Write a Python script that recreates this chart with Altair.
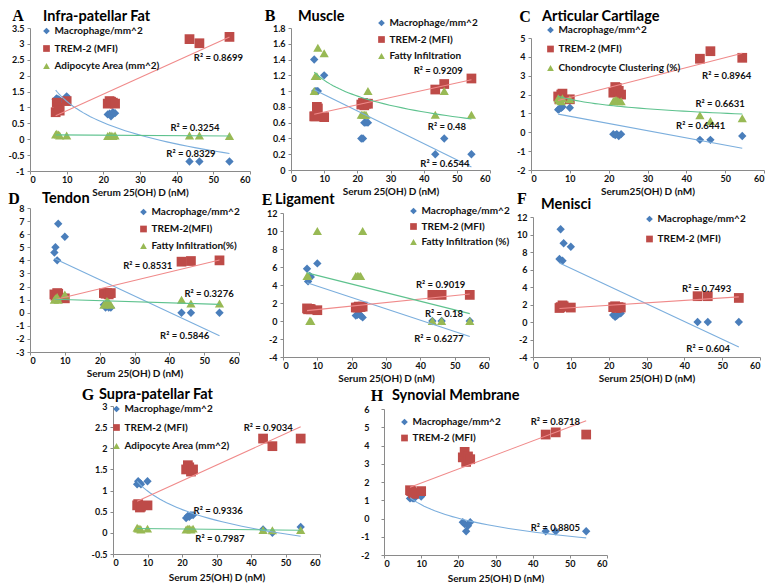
import altair as alt
import pandas as pd

# ---------------- data ----------------
SERUM = [7.0, 7.3, 7.8, 8.1, 10.0, 21.2, 21.7, 22.1, 22.6, 23.2, 43.5, 46.2, 54.4]
X_TICKS = [0, 10, 20, 30, 40, 50, 60]

# A  Infra-patellar Fat
A_MAC = [1.25, 1.28, 1.25, 1.22, 1.35, 0.78, 0.80, 0.72, 0.85, 0.82, -0.70, -0.70, -0.70]
A_TREM = [0.85, 1.15, 1.00, 0.90, 1.20, 1.12, 1.20, 1.18, 1.15, 1.12, 3.15, 3.02, 3.22]
A_ADIP = [0.15, 0.17, 0.15, 0.12, 0.12, 0.10, 0.12, 0.12, 0.10, 0.12, 0.12, 0.12, 0.10]
A_YTICKS = [-1, -0.5, 0, 0.5, 1, 1.5, 2, 2.5, 3, 3.5]
A_R2 = ["R² = 0.8699", "R² = 0.3254", "R² = 0.8329"]
A_R2_X = [51.4, 45.0, 43.9]
A_R2_Y = [2.56, 0.36, -0.48]

# B  Muscle
B_MAC = [1.40, 1.00, 1.00, 1.00, 1.20, 0.40, 0.40, 0.60, 0.60, 0.60, 0.20, 0.40, 0.20]
B_TREM = [0.68, 0.68, 0.80, 0.78, 0.67, 0.83, 0.85, 0.82, 0.84, 0.84, 1.02, 1.09, 1.16]
B_FAT = [1.00, 1.19, 1.19, 1.55, 1.48, 0.70, 0.70, 0.70, 0.70, 1.00, 0.70, 1.00, 0.70]
B_YTICKS = [0, 0.2, 0.4, 0.6, 0.8, 1, 1.2, 1.4, 1.6, 1.8]
B_R2 = ["R² = 0.9209", "R² = 0.48", "R² = 0.6544"]
B_R2_X = [44.4, 47.0, 46.4]
B_R2_Y = [1.25, 0.54, 0.08]

# C  Articular Cartilage
C_MAC = [1.20, 1.25, 1.30, 1.35, 1.30, -0.10, -0.15, -0.10, -0.20, -0.10, -0.40, -0.40, -0.20]
C_TREM = [1.90, 1.75, 2.00, 2.05, 1.75, 2.10, 2.40, 2.35, 2.20, 2.00, 3.90, 4.30, 3.95]
C_CHON = [1.80, 1.70, 1.65, 1.80, 1.75, 1.65, 1.70, 1.70, 1.65, 1.65, 0.90, 0.60, 0.75]
C_YTICKS = [-2, -1, 0, 1, 2, 3, 4, 5]
C_R2 = ["R² = 0.8964", "R² = 0.6631", "R² = 0.6441"]
C_R2_X = [50.4, 48.7, 43.7]
C_R2_Y = [3.0, 1.5, 0.33]

# D  Tendon
D_MAC = [4.60, 5.00, 4.00, 6.80, 5.80, 0.60, 0.40, 0.50, 0.40, 0.40, 0.00, 0.00, 0.00]
D_TREM = [1.40, 1.30, 1.50, 1.45, 1.10, 1.50, 1.45, 1.50, 1.40, 1.50, 3.90, 3.95, 4.00]
D_FAT = [1.00, 1.10, 1.20, 1.00, 1.40, 0.60, 0.70, 0.90, 0.80, 0.60, 1.00, 0.70, 0.70]
D_YTICKS = [-3, -2, -1, 0, 1, 2, 3, 4, 5, 6, 7, 8]
D_R2 = ["R² = 0.8531", "R² = 0.3276", "R² = 0.5846"]
D_R2_X = [33.8, 51.4, 44.4]
D_R2_Y = [3.54, 1.46, -1.81]

# E  Ligament
E_MAC = [5.80, 4.40, 5.00, 4.90, 6.40, 0.60, 0.70, 0.80, 0.60, 0.40, 0.00, 0.00, 0.00]
E_TREM = [1.40, 1.30, 1.35, 1.30, 1.20, 1.50, 1.50, 1.60, 1.55, 1.60, 2.90, 2.90, 2.90]
E_FAT = [5.0, 5.0, 0.0, 0.0, 10.0, 5.0, 5.0, 5.0, 5.0, 10.0, 0.0, 0.0, 0.0]
E_YTICKS = [-4, -2, 0, 2, 4, 6, 8, 10, 12]
E_R2 = ["R² = 0.9019", "R² = 0.18", "R² = 0.6277"]
E_R2_X = [45.9, 46.9, 45.4]
E_R2_Y = [4.0, 0.76, -1.97]

# F  Menisci
F_MAC = [7.20, 10.6, 7.00, 9.00, 8.60, 0.80, 0.60, 0.70, 0.90, 1.00, 0.00, 0.00, 0.00]
F_TREM = [1.60, 1.70, 1.90, 1.80, 1.65, 1.70, 1.80, 1.60, 1.70, 1.65, 2.95, 2.95, 2.75]
F_YTICKS = [-4, -2, 0, 2, 4, 6, 8, 10, 12]
F_R2 = ["R² = 0.7493", "R² = 0.604"]
F_R2_X = [45.9, 46.3]
F_R2_Y = [3.73, -3.05]

# G  Supra-patellar Fat
G_MAC = [1.15, 1.22, 1.18, 1.15, 1.22, 0.35, 0.40, 0.38, 0.42, 0.42, 0.08, 0.00, 0.14]
G_TREM = [0.65, 0.68, 0.60, 0.62, 0.65, 1.50, 1.60, 1.55, 1.45, 1.50, 2.23, 2.05, 2.23]
G_ADIP = [0.12, 0.10, 0.10, 0.08, 0.10, 0.08, 0.10, 0.10, 0.08, 0.10, 0.07, 0.06, 0.07]
G_YTICKS = [-0.5, 0, 0.5, 1, 1.5, 2, 2.5, 3]
G_R2 = ["R² = 0.9034", "R² = 0.9336", "R² = 0.7987"]
G_R2_X = [45.0, 30.5, 31.0]
G_R2_Y = [2.49, 0.52, -0.15]

# H  Synovial Membrane
H_MAC = [1.10, 1.15, 1.10, 1.10, 1.20, -0.20, -0.30, -0.70, -0.40, -0.20, -0.70, -0.70, -0.70]
H_TREM = [1.55, 1.50, 1.40, 1.35, 1.50, 3.35, 3.65, 3.10, 3.40, 3.25, 4.60, 4.72, 4.60]
H_YTICKS = [-2, -1, 0, 1, 2, 3, 4, 5, 6]
H_R2 = ["R² = 0.8718", "R² = 0.8805"]
H_R2_X = [46.1, 46.1]
H_R2_Y = [5.3, -0.54]

# ---------------- styles ----------------
MARK_COLORS = ["#4A7EBB", "#BE4B48", "#98B954"]
LINE_COLORS = ["#7BAEDD", "#F08A8A", "#5EC28E"]
SHAPES = ["diamond", "square", "triangle-up"]
SIZES = [70, 95, 85]
FONT = "Lato"
LABEL_EXPR = "datum.value < 0 ? '-' + format(-datum.value, '~g') : format(datum.value, '~g')"

PANELS = [
    dict(letter="A", title="Infra-patellar Fat",
         names=["Macrophage/mm^2", "TREM-2 (MFI)", "Adipocyte Area (mm^2)"],
         series=[A_MAC, A_TREM, A_ADIP], methods=["log", "linear", "linear"],
         ydom=[-1, 3.5], yticks=A_YTICKS, r2=(A_R2, A_R2_X, A_R2_Y),
         xtitle="Serum  25(OH) D (nM)", w=220, h=143, off=0,
         lx=-12, ly=-12, tx=13, ty=-11, gx=15, gy=3, gsp=17.5),
    dict(letter="B", title="Muscle",
         names=["Macrophage/mm^2", "TREM-2 (MFI)", "Fatty Infiltration"],
         series=[B_MAC, B_TREM, B_FAT], methods=["linear", "linear", "log"],
         ydom=[0, 1.8], yticks=B_YTICKS, r2=(B_R2, B_R2_X, B_R2_Y),
         xtitle="Serum 25(OH) D (nM)", w=199, h=142, off=0,
         lx=-21, ly=-12, tx=7, ty=-11, gx=89, gy=-5, gsp=16.5),
    dict(letter="C", title="Articular Cartilage",
         names=["Macrophage/mm^2", "TREM-2 (MFI)", "Chondrocyte Clustering (%)"],
         series=[C_MAC, C_TREM, C_CHON], methods=["linear", "linear", "log"],
         ydom=[-2, 5], yticks=C_YTICKS, r2=(C_R2, C_R2_X, C_R2_Y),
         xtitle="Serum25(OH) D (nM)", w=233, h=142, off=10,
         lx=-6, ly=-11, tx=11, ty=-11, gx=18, gy=2, gsp=19),
    dict(letter="D", title="Tendon",
         names=["Macrophage/mm^2", "TREM-2(MFI)", "Fatty Infiltration(%)"],
         series=[D_MAC, D_TREM, D_FAT], methods=["linear", "linear", "linear"],
         ydom=[-3, 8], yticks=D_YTICKS, r2=(D_R2, D_R2_X, D_R2_Y),
         xtitle="Serum 25(OH) D (nM)", w=209, h=144, off=0,
         lx=-16, ly=-9, tx=12, ty=-9, gx=112, gy=4, gsp=17),
    dict(letter="E", title="Ligament",
         names=["Macrophage/mm^2", "TREM-2 (MFI)", "Fatty Infiltration (%)"],
         series=[E_MAC, E_TREM, E_FAT], methods=["linear", "linear", "linear"],
         ydom=[-4, 12], yticks=E_YTICKS, r2=(E_R2, E_R2_X, E_R2_Y),
         xtitle="Serum 25(OH) D (nM)", w=206, h=149, off=5,
         lx=-16, ly=-8, tx=-8, ty=-8, gx=129, gy=3, gsp=15.5),
    dict(letter="F", title="Menisci",
         names=["Macrophage/mm^2", "TREM-2 (MFI)"],
         series=[F_MAC, F_TREM], methods=["linear", "linear"],
         ydom=[-4, 12], yticks=F_YTICKS, r2=(F_R2, F_R2_X, F_R2_Y),
         xtitle="Serum 25(OH) D (nM)", w=227, h=149, off=9,
         lx=-11, ly=-9, tx=8, ty=-3, gx=115, gy=11, gsp=20),
    dict(letter="G", title="Supra-patellar Fat",
         names=["Macrophage/mm^2", "TREM-2 (MFI)", "Adipocyte Area (mm^2)"],
         series=[G_MAC, G_TREM, G_ADIP], methods=["log", "linear", "linear"],
         ydom=[-0.5, 3], yticks=G_YTICKS, r2=(G_R2, G_R2_X, G_R2_Y),
         xtitle="Serum 25(OH) D (nM)", w=207, h=155, off=7, tpad=5,
         lx=-25, ly=-4, tx=-14, ty=-4, gx=2, gy=10, gsp=18.5),
    dict(letter="H", title="Synovial Membrane",
         names=["Macrophage/mm^2", "TREM-2 (MFI)"],
         series=[H_MAC, H_TREM], methods=["log", "linear"],
         ydom=[-2, 6], yticks=H_YTICKS, r2=(H_R2, H_R2_X, H_R2_Y),
         xtitle="Serum 25(OH) D (nM)", w=223, h=156, off=10, tpad=5, lpad=12,
         lx=-7, ly=-3, tx=8, ty=-3, gx=19, gy=23, gsp=16),
]


def make_panel(p):
    names = p["names"]
    n = len(names)
    rows = []
    for name, vals in zip(names, p["series"]):
        for xv, yv in zip(SERUM, vals):
            rows.append({"serum": xv, "value": yv, "series": name})
    df = pd.DataFrame(rows)
    w, h, off = p["w"], p["h"], p["off"]

    xenc = alt.X("serum:Q",
                 scale=alt.Scale(domain=[0, 60], nice=False, zero=False),
                 axis=alt.Axis(values=X_TICKS, title=p["xtitle"], labelExpr=LABEL_EXPR,
                               titlePadding=p.get("tpad", 3), labelPadding=1))
    yenc = alt.Y("value:Q",
                 scale=alt.Scale(domain=p["ydom"], nice=False, zero=False, range=[h, off]),
                 axis=alt.Axis(values=p["yticks"], title=None, labelExpr=LABEL_EXPR,
                               labelPadding=p.get("lpad", 3)))

    sym = 45
    legend = alt.Legend(orient="none", legendX=p["gx"] - 3.5, legendY=p["gy"] - 5,
                        title=None, padding=0, rowPadding=p["gsp"] - 10,
                        labelFont=FONT, labelFontSize=10, labelFontWeight="bold",
                        labelColor="#111111", labelOffset=3, symbolSize=sym,
                        symbolStrokeWidth=0, symbolOpacity=1, labelLimit=300,
                        direction="vertical")
    color = alt.Color("series:N", scale=alt.Scale(domain=names, range=MARK_COLORS[:n]), legend=legend)
    shape = alt.Shape("series:N", scale=alt.Scale(domain=names, range=SHAPES[:n]), legend=legend)

    base = alt.Chart(df)
    layers = []
    for i, name in enumerate(names):
        layers.append(
            base.transform_filter(alt.datum.series == name)
            .mark_point(filled=True, opacity=1, strokeWidth=0, size=SIZES[i])
            .encode(x=xenc, y=yenc, color=color, shape=shape)
        )
    for i, name in enumerate(names):
        layers.append(
            base.transform_filter(alt.datum.series == name)
            .transform_regression("serum", "value", method=p["methods"][i])
            .mark_line(color=LINE_COLORS[i], strokeWidth=1.1)
            .encode(x=xenc, y=yenc)
        )
    r2t, r2x, r2y = p["r2"]
    r2df = pd.DataFrame({"serum": r2x, "value": r2y, "t": r2t})
    layers.append(
        alt.Chart(r2df).mark_text(font=FONT, fontSize=9.5, fontWeight="bold", color="#111111")
        .encode(x=xenc, y=yenc, text="t:N")
    )
    lab = pd.DataFrame({"t": [p["letter"]]})
    layers.append(
        alt.Chart(lab).mark_text(font="Liberation Serif", fontSize=16, fontWeight="bold",
                                 align="center", baseline="middle", color="black")
        .encode(text="t:N", x=alt.value(p["lx"]), y=alt.value(p["ly"]))
    )
    tdf = pd.DataFrame({"t": [p["title"]]})
    layers.append(
        alt.Chart(tdf).mark_text(font=FONT, fontSize=14.5, fontWeight="bold",
                                 align="left", baseline="middle", color="black")
        .encode(text="t:N", x=alt.value(p["tx"]), y=alt.value(p["ty"]))
    )
    return alt.layer(*layers).properties(width=w, height=h)


panels = [make_panel(p) for p in PANELS]

# invisible spacer for the bottom row (also pushes that row a little lower)
spacer = alt.Chart(pd.DataFrame({"v": [0]})).mark_point(
    opacity=0, size=16, filled=True, strokeWidth=0
).encode(x=alt.value(5), y=alt.value(-20)).properties(width=19, height=10)

RES = dict(color="independent", shape="independent")
row1 = alt.hconcat(panels[0], panels[1], panels[2], spacing=41, bounds="flush").resolve_scale(**RES)
row2 = alt.hconcat(panels[3], panels[4], panels[5], spacing=44, bounds="flush").resolve_scale(**RES)
row3 = alt.hconcat(spacer, panels[6], panels[7], spacing=64, bounds="flush").resolve_scale(**RES)

chart = (
    alt.vconcat(row1, row2, row3, spacing=-6, padding=0)
    .resolve_scale(**RES)
    .configure_view(stroke=None)
    .configure_axis(grid=False, domainColor="#8A8A8A", tickColor="#8A8A8A", tickSize=3,
                    labelFont=FONT, labelFontSize=9, labelFontWeight="bold", labelColor="#111111",
                    titleFont=FONT, titleFontSize=10, titleFontWeight="bold", titleColor="#111111")
)

chart.save("out.html", embed_options={"renderer": "svg", "actions": False})
